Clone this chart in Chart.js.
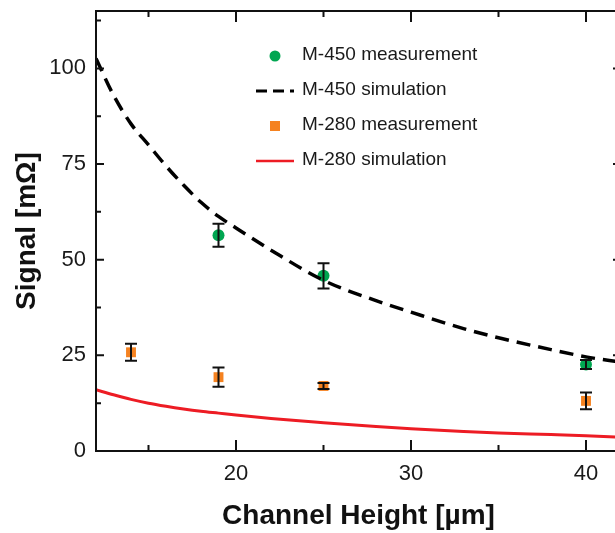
<!DOCTYPE html>
<html>
<head>
<meta charset="utf-8">
<script src="https://cdn.jsdelivr.net/npm/chart.js@4.4.1/dist/chart.umd.min.js"></script>
<style>
  html, body { margin: 0; padding: 0; background: #fff; overflow: hidden; }
  #wrap { width: 630px; height: 533px; }
</style>
</head>
<body>
<div id="wrap"><canvas id="signalChart"></canvas></div>
<script>
// measured points (channel height in µm, signal in mΩ)
var m450Heights = [19, 25, 40];
var m450Signal = [56.4, 45.8, 22.6];
var m450Error = [3.0, 3.3, 1.2];

var m280Heights = [14, 19, 25, 40];
var m280Signal = [25.8, 19.3, 17.0, 13.1];
var m280Error = [2.2, 2.5, 0.8, 2.2];

// simulated curves
var simHeights = [12, 13, 14, 15, 16, 17, 18, 19, 20, 22, 25, 28, 30, 33, 35, 38, 40, 42];
var m450Sim = [102.6, 93, 85.5, 80, 74.5, 69.5, 65, 61.3, 58.3, 52.5, 44.6, 39.3, 36.3, 32, 29.6, 26.5, 24.6, 23.2];
var m280Sim = [16, 14.7, 13.5, 12.5, 11.7, 11, 10.4, 9.9, 9.4, 8.5, 7.4, 6.4, 5.8, 5.1, 4.7, 4.3, 4.0, 3.6];

var xTicks = [20, 30, 40];
var yTicks = [0, 25, 50, 75, 100];
var xMinorStep = 5;
var yMinorStep = 12.5;

var legendLabels = ['M-450 measurement', 'M-450 simulation', 'M-280 measurement', 'M-280 simulation'];

var FONT = 'Arial, "Liberation Sans", sans-serif';
var GREEN = '#00a651';
var ORANGE = '#f58220';
var RED = '#ed1c24';

function toPoints(xs, ys) {
    return xs.map((x, i) => ({ x: x, y: ys[i] }));
}

// error bars, drawn through the scales
var errorBars = {
    id: 'errorBars',
    afterDatasetsDraw(chart) {
        const { ctx, scales: { x, y } } = chart;
        ctx.save();
        ctx.strokeStyle = '#111';
        ctx.lineWidth = 2;
        chart.data.datasets.forEach(ds => {
            if (!ds.errors) return;
            ds.data.forEach((p, i) => {
                const px = x.getPixelForValue(p.x);
                const top = y.getPixelForValue(p.y + ds.errors[i]);
                const bot = y.getPixelForValue(p.y - ds.errors[i]);
                ctx.beginPath();
                ctx.moveTo(px, top); ctx.lineTo(px, bot);
                ctx.moveTo(px - 6, top); ctx.lineTo(px + 6, top);
                ctx.moveTo(px - 6, bot); ctx.lineTo(px + 6, bot);
                ctx.stroke();
            });
        });
        ctx.restore();
    }
};

// box round the plot with inward ticks on all sides
var frame = {
    id: 'frame',
    afterDraw(chart) {
        const { ctx, chartArea: a, scales: { x, y } } = chart;
        ctx.save();
        ctx.strokeStyle = '#111';
        ctx.lineWidth = 2;
        ctx.strokeRect(a.left, a.top, a.right - a.left, a.bottom - a.top);
        ctx.beginPath();
        for (let v = Math.ceil(x.min / xMinorStep) * xMinorStep; v < x.max; v += xMinorStep) {
            const px = x.getPixelForValue(v);
            const len = xTicks.includes(v) ? 11 : 6;
            ctx.moveTo(px, a.bottom); ctx.lineTo(px, a.bottom - len);
            ctx.moveTo(px, a.top); ctx.lineTo(px, a.top + len);
        }
        for (let v = yMinorStep; v < y.max; v += yMinorStep) {
            const py = y.getPixelForValue(v);
            const len = yTicks.includes(v) ? 8 : 5;
            ctx.moveTo(a.left, py); ctx.lineTo(a.left + len, py);
            ctx.moveTo(a.right, py); ctx.lineTo(a.right - len, py);
        }
        ctx.stroke();
        ctx.restore();
    }
};

// legend inside the plot, upper right
var insideLegend = {
    id: 'insideLegend',
    afterDraw(chart) {
        const { ctx, chartArea: a } = chart;
        const mx = a.left + 179;
        const tx = a.left + 206;
        ctx.save();
        ctx.font = '19px ' + FONT;
        ctx.fillStyle = '#1a1a1a';
        ctx.textBaseline = 'middle';
        legendLabels.forEach((label, i) => {
            const ry = a.top + 45 + i * 35;
            ctx.fillText(label, tx, ry - 1);
        });
        // markers
        let ry = a.top + 45;
        ctx.fillStyle = GREEN;
        ctx.beginPath(); ctx.arc(mx, ry, 5.5, 0, Math.PI * 2); ctx.fill();
        ry += 35;
        ctx.strokeStyle = '#000'; ctx.lineWidth = 3; ctx.setLineDash([11, 6]);
        ctx.beginPath(); ctx.moveTo(mx - 19, ry); ctx.lineTo(mx + 19, ry); ctx.stroke();
        ctx.setLineDash([]);
        ry += 35;
        ctx.fillStyle = ORANGE;
        ctx.fillRect(mx - 5, ry - 5, 10, 10);
        ry += 35;
        ctx.strokeStyle = RED; ctx.lineWidth = 2.5;
        ctx.beginPath(); ctx.moveTo(mx - 19, ry); ctx.lineTo(mx + 19, ry); ctx.stroke();
        ctx.restore();
    }
};

var data = {
    datasets: [
        {
            label: legendLabels[0],
            data: toPoints(m450Heights, m450Signal),
            errors: m450Error,
            backgroundColor: GREEN,
            borderWidth: 0,
            pointStyle: 'circle',
            pointRadius: 6,
            order: 1
        },
        {
            label: legendLabels[1],
            data: toPoints(simHeights, m450Sim),
            showLine: true,
            borderColor: '#000',
            borderWidth: 3.5,
            borderDash: [14, 8],
            pointRadius: 0,
            cubicInterpolationMode: 'monotone',
            order: 0
        },
        {
            label: legendLabels[2],
            data: toPoints(m280Heights, m280Signal),
            errors: m280Error,
            backgroundColor: ORANGE,
            borderWidth: 0,
            pointStyle: 'rect',
            pointRadius: 7,
            order: 1
        },
        {
            label: legendLabels[3],
            data: toPoints(simHeights, m280Sim),
            showLine: true,
            borderColor: RED,
            borderWidth: 3,
            pointRadius: 0,
            cubicInterpolationMode: 'monotone',
            order: 0
        }
    ]
};

var options = {
    responsive: true,
    maintainAspectRatio: false,
    animation: false,
    layout: { padding: { top: 11, right: 9, left: 0, bottom: 0 } },
    plugins: { legend: { display: false }, tooltip: { enabled: false } },
    scales: {
        x: {
            type: 'linear',
            min: 12,
            max: 42,
            afterBuildTicks: s => { s.ticks = xTicks.map(v => ({ value: v })); },
            afterFit: s => { s.height = 82; s.paddingLeft = 0; s.paddingRight = 0; },
            grid: { display: false, drawTicks: false },
            border: { display: false },
            ticks: { font: { size: 22, family: FONT }, color: '#1a1a1a', padding: 10, maxRotation: 0 },
            title: { display: true, text: 'Channel Height [µm]', color: '#111',
                     font: { size: 28, weight: 'bold', family: FONT }, padding: { top: 0, bottom: 0 } }
        },
        y: {
            type: 'linear',
            min: 0,
            max: 115,
            afterBuildTicks: s => { s.ticks = yTicks.map(v => ({ value: v })); },
            afterFit: s => { s.width = 96; s.paddingTop = 0; s.paddingBottom = 0; },
            grid: { display: false, drawTicks: false },
            border: { display: false },
            ticks: { font: { size: 22, family: FONT }, color: '#1a1a1a', padding: 10 },
            title: { display: true, text: 'Signal [mΩ]', color: '#111',
                     font: { size: 28, weight: 'bold', family: FONT }, padding: { top: 10, bottom: 0 } }
        }
    }
};

var ctx = document.getElementById('signalChart').getContext('2d');
var signalChart = new Chart(ctx, {
    type: 'scatter',
    data: data,
    options: options,
    plugins: [errorBars, frame, insideLegend]
});
</script>
</body>
</html>
